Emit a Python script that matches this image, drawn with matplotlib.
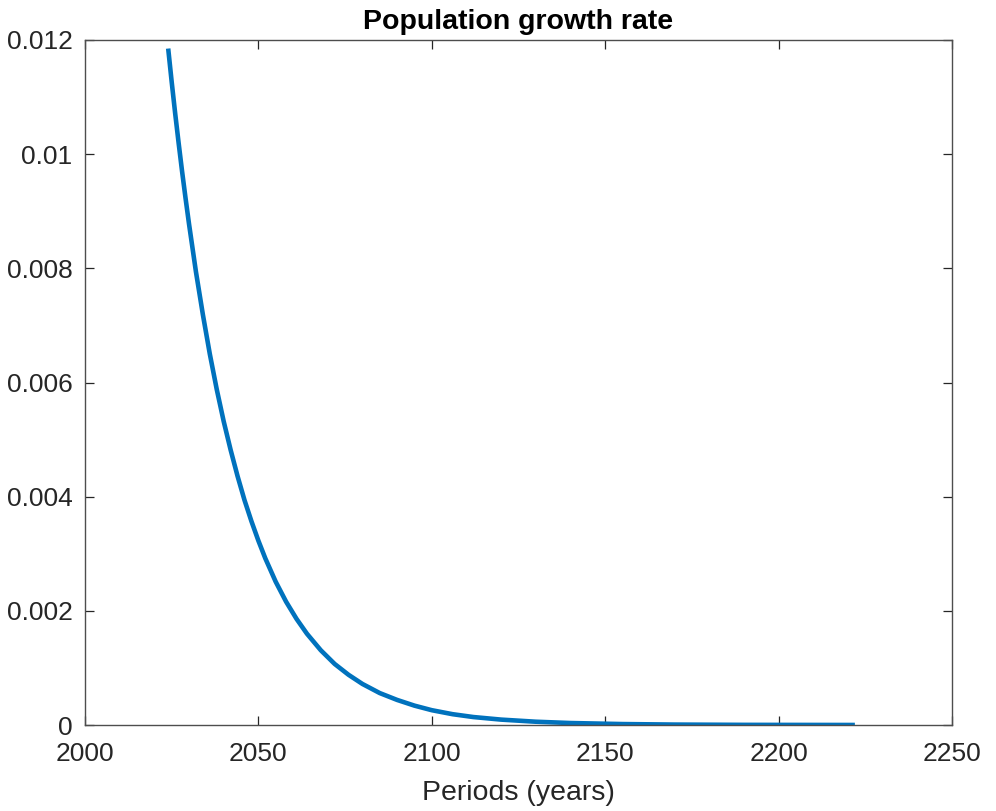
import matplotlib
matplotlib.use("Agg")
import matplotlib.pyplot as plt

# Annual population growth rate, projected
years = [2024, 2025, 2026, 2027, 2028, 2029, 2030, 2032, 2034, 2036,
         2038, 2040, 2042, 2044, 2046, 2048, 2050, 2052, 2055, 2058,
         2061, 2064, 2068, 2072, 2076, 2080, 2085, 2090, 2095, 2100,
         2106, 2112, 2120, 2130, 2140, 2155, 2170, 2190, 2222]
growth = [0.01185, 0.01127, 0.01072, 0.01020, 0.00970, 0.00923, 0.00878,
          0.00794, 0.00719, 0.00650, 0.00588, 0.00532, 0.00482, 0.00436,
          0.00394, 0.00357, 0.00323, 0.00292, 0.00251, 0.00216, 0.00186,
          0.00160, 0.00131, 0.00107, 0.00088, 0.00072, 0.00056, 0.00044,
          0.00034, 0.00026, 0.00019, 0.00014, 0.000095, 0.000058, 0.000035,
          0.000017, 0.000008, 0.000003, 0.000001]

x_ticks = [2000, 2050, 2100, 2150, 2200, 2250]
y_ticks = [0, 0.002, 0.004, 0.006, 0.008, 0.01, 0.012]
y_tick_labels = ["0", "0.002", "0.004", "0.006", "0.008", "0.01", "0.012"]

plt.rcParams["font.family"] = ["Liberation Sans", "DejaVu Sans"]

fig = plt.figure(figsize=(9.96, 8.11), dpi=100)
ax = fig.add_axes([0.0853, 0.106, 0.8705, 0.8447])

ax.plot(years, growth, color="#0072BD", linewidth=3.3, solid_capstyle="butt",
        solid_joinstyle="round")

ax.set_xlim(2000, 2250)
ax.set_ylim(0, 0.012)
ax.set_xticks(x_ticks)
ax.set_yticks(y_ticks)
ax.set_yticklabels(y_tick_labels)

axis_color = "#262626"
for s in ax.spines.values():
    s.set_color("#4d4d4d")
    s.set_linewidth(1.0)
ax.tick_params(direction="in", length=6.3, width=0.9, colors=axis_color,
               labelsize=19, top=True, right=True)
ax.tick_params(axis="x", pad=12)
ax.tick_params(axis="y", pad=9)

ax.set_xlabel("Periods (years)", fontsize=20.5, color=axis_color, labelpad=10)
ax.set_title("Population growth rate", fontsize=20.5, fontweight="bold",
             color="black", pad=8)

fig.savefig("out.png", dpi=100, facecolor="white")
